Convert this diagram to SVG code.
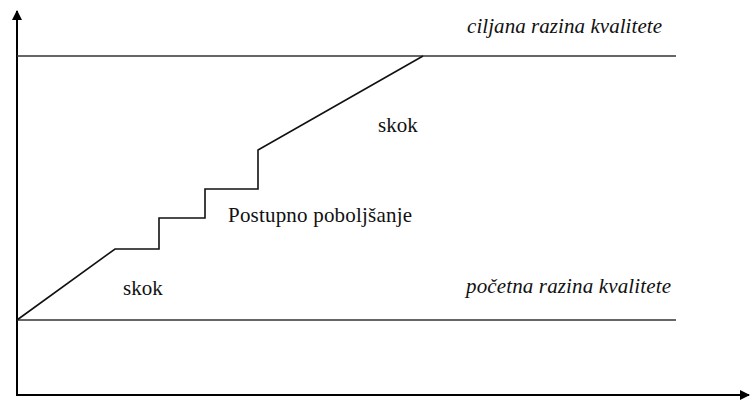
<svg xmlns="http://www.w3.org/2000/svg" width="750" height="401" viewBox="0 0 750 401">
<style>
.ax{stroke:#000;stroke-width:2;fill:none}
.lvl{stroke:#333;stroke-width:1.6;fill:none}
.path{stroke:#111;stroke-width:1.6;fill:none}
.t{font-family:"Liberation Serif","DejaVu Serif",serif;font-size:21px;fill:#111}
.i{font-style:italic}
</style>
<defs>
<marker id="ah" markerWidth="10" markerHeight="10" refX="9" refY="5" orient="auto" markerUnits="userSpaceOnUse">
<path d="M0,0 L10,5 L0,10 Z" fill="#000"/>
</marker>
</defs>
<rect width="750" height="401" fill="#fff"/>
<g id="connectors">
<line class="ax" x1="17" y1="396" x2="17" y2="11" marker-end="url(#ah)"/>
<line class="ax" x1="16" y1="395" x2="749" y2="395" marker-end="url(#ah)"/>
<line class="lvl" x1="17" y1="56" x2="676" y2="56"/>
<line class="lvl" x1="17" y1="320" x2="676" y2="320"/>
<polyline class="path" points="17,320 115,249 159,249 159,218 205,218 205,189 258,189 258,150 423,56"/>
</g>
<g id="target-label"><text class="t i" x="662" y="33" text-anchor="end" textLength="195">ciljana razina kvalitete</text></g>
<g id="start-label"><text class="t i" x="671" y="293" text-anchor="end" textLength="205">početna razina kvalitete</text></g>
<g id="jump-top"><text class="t" x="378" y="132">skok</text></g>
<g id="jump-bottom"><text class="t" x="123" y="295">skok</text></g>
<g id="gradual"><text class="t" x="228" y="222" textLength="184">Postupno poboljšanje</text></g>
</svg>
